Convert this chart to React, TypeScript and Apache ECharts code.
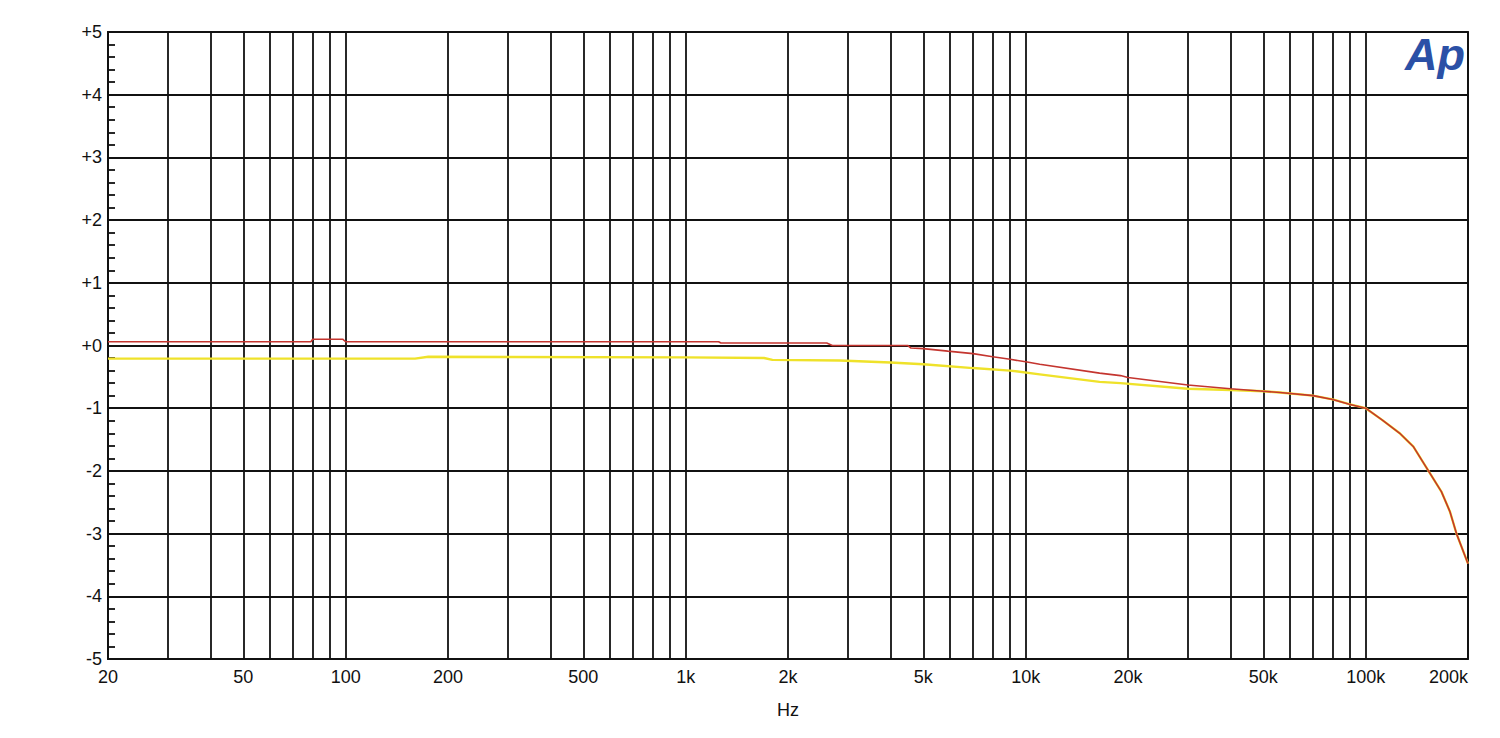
import React, { useEffect, useRef } from "react";
import * as echarts from "echarts";

// Frequency response, channel 1 (red) and channel 2 (yellow): [Hz, dB]
const redFreq = [20, 79, 80, 98, 100, 1250, 1270, 2600, 2700, 4500, 4600, 5000, 5900, 7000, 8000, 9000, 10000, 11000, 16500, 19000, 20000, 30000, 40000, 50000, 56000, 70000, 80000, 90000, 100000, 112000, 126000, 138000, 153000, 167000, 177000, 185000, 200000];
const redDb = [0.06, 0.06, 0.1, 0.1, 0.06, 0.06, 0.04, 0.04, 0.0, 0.0, -0.04, -0.05, -0.09, -0.13, -0.18, -0.22, -0.26, -0.3, -0.44, -0.48, -0.51, -0.63, -0.69, -0.73, -0.75, -0.8, -0.86, -0.94, -1.0, -1.19, -1.4, -1.61, -2.0, -2.33, -2.65, -3.0, -3.48];

const yellowFreq = [20, 160, 175, 1000, 1700, 1800, 2840, 4000, 5000, 7000, 9000, 11000, 16500, 19000, 30000, 40000, 50000, 56000, 70000, 80000, 90000, 100000, 112000, 126000, 138000, 153000, 167000, 177000, 185000, 200000];
const yellowDb = [-0.21, -0.21, -0.18, -0.19, -0.2, -0.23, -0.24, -0.27, -0.3, -0.36, -0.4, -0.46, -0.58, -0.6, -0.69, -0.71, -0.73, -0.75, -0.8, -0.86, -0.94, -1.0, -1.19, -1.4, -1.61, -2.0, -2.33, -2.65, -3.0, -3.48];

// Axis ticks
const gridFreqs = [20, 30, 40, 50, 60, 70, 80, 90, 100, 200, 300, 400, 500, 600, 700, 800, 900, 1000, 2000, 3000, 4000, 5000, 6000, 7000, 8000, 9000, 10000, 20000, 30000, 40000, 50000, 60000, 70000, 80000, 90000, 100000, 200000];
const labelFreqs = [20, 50, 100, 200, 500, 1000, 2000, 5000, 10000, 20000, 50000, 100000, 200000];

const FONT = "'Liberation Sans', Arial, sans-serif";
const INK = "#111111";

export default function App() {
  const ref = useRef<HTMLDivElement>(null);
  useEffect(() => {
    if (!ref.current) return;
    const chart = echarts.init(ref.current, null, { renderer: "svg" });
    const red = redFreq.map((f, i) => [f, redDb[i]]);
    const yellow = yellowFreq.map((f, i) => [f, yellowDb[i]]);
    const lineStyle = { color: INK, width: 1.8 };
    chart.setOption({
      animation: false,
      backgroundColor: "#ffffff",
      grid: {
        left: 108,
        right: 32,
        top: 32,
        bottom: 79,
        show: true,
        borderColor: INK,
        borderWidth: 1.8,
        containLabel: false,
      },
      xAxis: {
        type: "log",
        logBase: 10,
        min: 20,
        max: 200000,
        name: "Hz",
        nameLocation: "middle",
        nameGap: 42,
        nameTextStyle: { fontFamily: FONT, fontSize: 18, color: INK },
        axisLine: { show: true, lineStyle },
        axisTick: { show: false, customValues: gridFreqs },
        axisLabel: {
          customValues: labelFreqs,
          fontFamily: FONT,
          fontSize: 18,
          color: INK,
          margin: 9,
          alignMaxLabel: "right",
          formatter: (v: number) => (v >= 1000 ? v / 1000 + "k" : String(v)),
        },
        splitLine: { show: true, lineStyle },
      },
      yAxis: {
        type: "value",
        min: -5,
        max: 5,
        interval: 1,
        axisLine: { show: true, lineStyle },
        axisTick: { show: false, inside: true },
        minorTick: { show: true, splitNumber: 5, length: 7, lineStyle },
        axisLabel: {
          fontFamily: FONT,
          fontSize: 18,
          color: INK,
          margin: 6,
          formatter: (v: number) => (v >= 0 ? "+" + v : String(v)),
        },
        splitLine: { show: true, lineStyle },
      },
      series: [
        {
          type: "line",
          data: yellow,
          showSymbol: false,
          lineStyle: { color: "#efe22a", width: 2.4 },
          z: 3,
        },
        {
          type: "line",
          data: red,
          showSymbol: false,
          lineStyle: { color: "#c4352f", width: 1.6 },
          z: 4,
        },
      ],
      graphic: [
        {
          type: "text",
          left: 1405,
          top: 32,
          style: {
            text: "Ap",
            fontFamily: FONT,
            fontSize: 45,
            fontWeight: "bold",
            fontStyle: "italic",
            fill: "#2b50a6",
          },
        },
      ],
    });
    return () => chart.dispose();
  }, []);
  return (
    <div
      ref={ref}
      style={{ position: "fixed", left: 0, top: 0, width: 1500, height: 738, background: "#fff" }}
    />
  );
}
